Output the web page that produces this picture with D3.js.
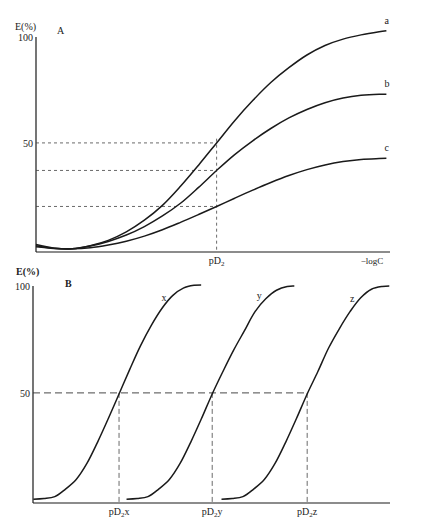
<!DOCTYPE html>
<html><head><meta charset="utf-8">
<script src="https://cdn.jsdelivr.net/npm/d3@7/dist/d3.min.js"></script>
<style>body{margin:0;background:#fff}svg{display:block}text{font-family:"Liberation Serif","DejaVu Serif",serif;fill:#222}</style>
</head><body><svg id="c" width="423" height="532"></svg>
<script>
// Panel A: x = -logC (arbitrary units), E (%)
const xA = [0,0.5,1,1.5,2,2.5,3,3.5,4,4.5,5,5.5,6,6.5,7,7.5,8,8.5,9,9.5,9.7];
const seriesA_a = [2,0.3,0,1.5,4,8,13.5,20.5,29.5,39.5,50,60.5,70,78.5,85.5,91.5,96,99,101,102.5,103];
const seriesA_b = [1.5,0.3,0,1.3,3.5,6.5,10.5,15.5,21.5,29,37,44.5,51,56.8,61.8,65.8,69,71.2,72.5,73,73];
const seriesA_c = [1,0.2,0,0.5,1.8,3.6,6,9,12.5,16.2,20,23.9,27.7,31.3,34.6,37.4,39.6,41.2,42.2,42.6,42.7];
const labelsA = ["a","b","c"];
const pD1 = 5.0;
const refLevelsA = [50,37,20];
const yTicks = [100,50];

// Panel B: three parallel curves x, y, z  ([−logC, E%])
const seriesB_x = [[0.01,0.3],[0.31,0.6],[0.61,1.5],[0.91,5],[1.21,9.5],[1.51,17],[1.81,27],[2.11,38],[2.41,49.5],[2.71,61],[3.01,72],[3.31,81.5],[3.61,89.5],[3.91,95.5],[4.21,99],[4.51,100.3],[4.71,100.5]];
const seriesB_y = [[2.62,0.3],[2.92,0.6],[3.22,1.5],[3.52,5],[3.82,9.5],[4.12,17],[4.42,27],[4.72,38],[5.02,49.5],[5.32,60],[5.62,70],[5.92,79],[6.22,88],[6.52,94],[6.82,98],[7.12,99.8],[7.32,100]];
const seriesB_z = [[5.28,0.3],[5.58,0.6],[5.88,1.5],[6.18,5],[6.48,9.5],[6.78,17],[7.08,27],[7.38,38],[7.68,49.5],[7.98,60],[8.28,71],[8.58,80],[8.88,88],[9.18,94.5],[9.48,98.5],[9.78,99.8],[9.98,100]];
const labelsB = ["x","y","z"];
const pD2 = [2.41,5.02,7.68];

const svg = d3.select("#c");
const ink = "#1a1a1a";

// ---------- Panel A ----------
const sxA = d3.scaleLinear().domain([0,9.8]).range([36,390]);
const syA = d3.scaleLinear().domain([-1.5,100]).range([252,37]);
const gA = svg.append("g");
gA.append("line").attr("x1",sxA(0)).attr("x2",sxA(0)).attr("y1",syA(100)).attr("y2",syA(-1.5)).attr("stroke",ink).attr("stroke-width",1.2);
gA.append("line").attr("x1",sxA(0)).attr("x2",sxA(9.8)).attr("y1",syA(-1.5)).attr("y2",syA(-1.5)).attr("stroke",ink).attr("stroke-width",1.2);
refLevelsA.forEach(v=>{
  gA.append("line").attr("x1",sxA(0)).attr("x2",sxA(pD1)).attr("y1",syA(v)).attr("y2",syA(v))
    .attr("stroke","#444").attr("stroke-width",0.8).attr("stroke-dasharray","3,3");
});
gA.append("line").attr("x1",sxA(pD1)).attr("x2",sxA(pD1)).attr("y1",syA(52)).attr("y2",syA(-1.5))
  .attr("stroke","#444").attr("stroke-width",0.8).attr("stroke-dasharray","3,3");
const lineA = d3.line().x((d,i)=>sxA(xA[i])).y(d=>syA(d)).curve(d3.curveCatmullRom.alpha(0.5));
[seriesA_a,seriesA_b,seriesA_c].forEach((s,k)=>{
  gA.append("path").attr("d",lineA(s)).attr("fill","none").attr("stroke",ink).attr("stroke-width",1.5);
  gA.append("text").attr("x",sxA(9.7)-2).attr("y",syA(s[s.length-1])-7).attr("font-size",10).text(labelsA[k]);
});
yTicks.forEach(t=>{
  gA.append("text").attr("x",sxA(0)-3).attr("y",syA(t)+4).attr("text-anchor","end").attr("font-size",10).text(t);
});
gA.append("text").attr("x",15).attr("y",30).attr("font-size",10).text("E(%)");
gA.append("text").attr("x",57).attr("y",34).attr("font-size",10).text("A");
const tA = gA.append("text").attr("x",sxA(pD1)).attr("y",264).attr("text-anchor","middle").attr("font-size",10);
tA.append("tspan").text("pD");
tA.append("tspan").attr("font-size",7).attr("dy",2).text("2");
gA.append("text").attr("x",372).attr("y",264).attr("text-anchor","middle").attr("font-size",9).text("−logC");

// ---------- Panel B ----------
const sxB = d3.scaleLinear().domain([0,10]).range([33,390]);
const syB = d3.scaleLinear().domain([-1.5,100]).range([503,286]);
const gB = svg.append("g");
gB.append("line").attr("x1",sxB(0)).attr("x2",sxB(0)).attr("y1",syB(100)).attr("y2",syB(-1.5)).attr("stroke",ink).attr("stroke-width",1.2);
gB.append("line").attr("x1",sxB(0)).attr("x2",sxB(10)).attr("y1",syB(-1.5)).attr("y2",syB(-1.5)).attr("stroke",ink).attr("stroke-width",1.2);
gB.append("line").attr("x1",sxB(0)).attr("x2",sxB(pD2[2])).attr("y1",syB(50)).attr("y2",syB(50))
  .attr("stroke","#333").attr("stroke-width",0.9).attr("stroke-dasharray","7,4");
pD2.forEach(p=>{
  gB.append("line").attr("x1",sxB(p)).attr("x2",sxB(p)).attr("y1",syB(50)).attr("y2",syB(-1.5))
    .attr("stroke","#444").attr("stroke-width",0.8).attr("stroke-dasharray","5,3");
});
const lineB = d3.line().x(d=>sxB(d[0])).y(d=>syB(d[1])).curve(d3.curveCatmullRom.alpha(0.5));
const labelPos = [[3.6,93],[6.27,94],[8.88,92.5]];
[seriesB_x,seriesB_y,seriesB_z].forEach((s,k)=>{
  gB.append("path").attr("d",lineB(s)).attr("fill","none").attr("stroke",ink).attr("stroke-width",1.5);
  gB.append("text").attr("x",sxB(labelPos[k][0])).attr("y",syB(labelPos[k][1])).attr("font-size",10).text(labelsB[k]);
});
yTicks.forEach(t=>{
  gB.append("text").attr("x",sxB(0)-3).attr("y",syB(t)+4).attr("text-anchor","end").attr("font-size",10).text(t);
});
gB.append("text").attr("x",16).attr("y",275).attr("font-size",10).attr("font-weight","bold").text("E(%)");
gB.append("text").attr("x",65).attr("y",287).attr("font-size",10).attr("font-weight","bold").text("B");
pD2.forEach((p,k)=>{
  const t = gB.append("text").attr("x",sxB(p)).attr("y",515).attr("text-anchor","middle").attr("font-size",10);
  t.append("tspan").text("pD");
  t.append("tspan").attr("font-size",7).attr("dy",2).text("2");
  t.append("tspan").attr("dy",-2).text(labelsB[k]);
});
</script></body></html>
